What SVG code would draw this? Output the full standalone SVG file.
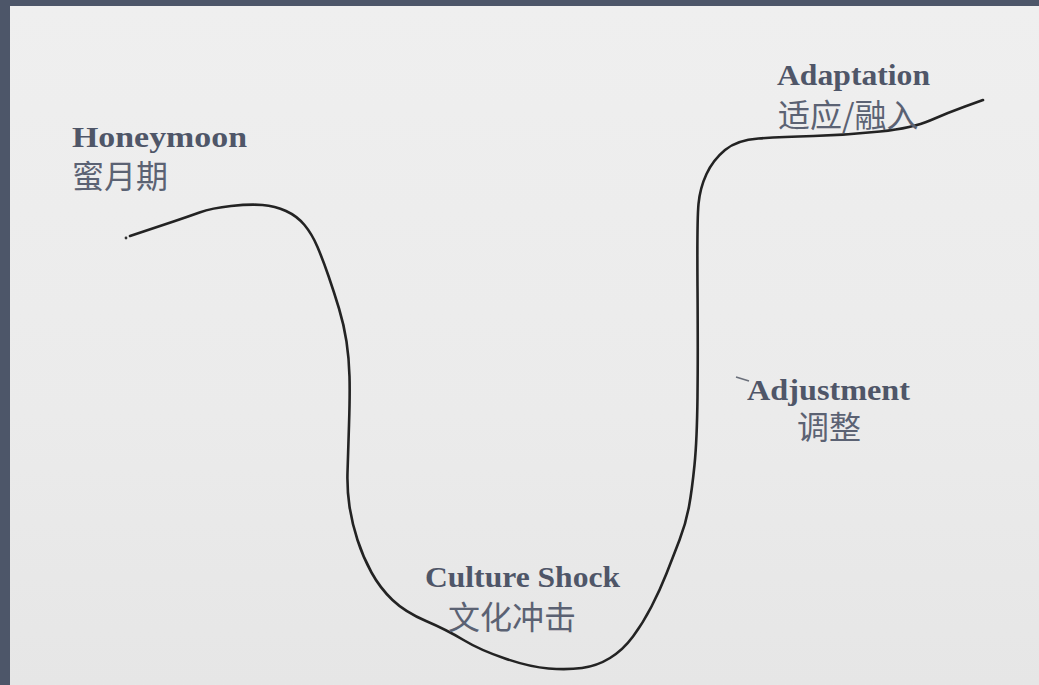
<svg xmlns="http://www.w3.org/2000/svg" width="1039" height="685" viewBox="0 0 1039 685">
  <defs>
    <linearGradient id="paper" x1="0" y1="0" x2="0" y2="1">
      <stop offset="0" stop-color="#efefef"/>
      <stop offset="0.6" stop-color="#ebebeb"/>
      <stop offset="1" stop-color="#e6e6e6"/>
    </linearGradient>
    <style>
      .en { font-family: "Liberation Serif", "DejaVu Serif", serif; font-weight: bold; font-size: 29px; fill: #4f5668; }
      .zh { font-family: "Noto Sans CJK SC", "Noto Sans", sans-serif; font-size: 32px; fill: #5b6273; }
      .curve { fill: none; stroke: #232323; stroke-width: 2.6; stroke-linecap: round; stroke-linejoin: round; }
    </style>
  </defs>
  <rect x="0" y="0" width="1039" height="685" fill="#4d5669"/>
  <rect x="10" y="6" width="1029" height="679" fill="url(#paper)"/>

  <g id="connectors">
    <path class="curve" d="M130,236 L145,231 Q160,226 173.5,221.5 Q187,217 199.5,212.5 Q212,208 231,206 Q250,204 262.5,205 Q275,206 286,211 Q297,216 304.5,225 Q312,234 317.5,247 Q323,260 328.5,276 Q334,292 339,308.5 Q344,325 346.5,341.5 Q349,358 349.5,376.5 Q350,395 349,425 Q348,455 347.5,472.5 Q347,490 349.5,506.5 Q352,523 357.5,540 Q363,557 371.5,572.5 Q380,588 392.5,600 Q405,612 426,621 Q447,630 463.5,640 Q480,650 505,658.5 Q530,667 548.5,668.5 Q567,670 582,668 Q597,666 610,658 Q623,650 633,636.5 Q643,623 651.5,606.5 Q660,590 666.5,573.5 Q673,557 679.5,540 Q686,523 689,506.5 Q692,490 694.5,465 Q697,440 697.5,396.5 Q698,353 697.5,286.5 Q697,220 698.5,204 Q700,188 706.5,174 Q713,160 725,150 Q737,140 758.5,138.5 Q780,137 813.5,136 Q847,135 880,131.5 Q913,128 930,120.5 Q947,113 965,106.5 L983,100"/>
    <circle cx="126" cy="238" r="1.4" fill="#333"/>
    <path d="M736,377 L749,381" stroke="#6a6f7a" stroke-width="1.5" fill="none"/>
  </g>

  <g id="honeymoon">
    <text class="en" x="72" y="147" textLength="175" lengthAdjust="spacingAndGlyphs">Honeymoon</text>
    <text class="zh" x="72" y="188" font-size="33">蜜月期</text>
  </g>
  <g id="culture-shock">
    <text class="en" x="425" y="587" textLength="195" lengthAdjust="spacingAndGlyphs">Culture Shock</text>
    <text class="zh" x="448" y="629" font-size="33">文化冲击</text>
  </g>
  <g id="adjustment">
    <text class="en" x="747" y="400" textLength="163" lengthAdjust="spacingAndGlyphs">Adjustment</text>
    <text class="zh" x="797" y="439">调整</text>
  </g>
  <g id="adaptation">
    <text class="en" x="777" y="85" textLength="153" lengthAdjust="spacingAndGlyphs">Adaptation</text>
    <text class="zh" x="778" y="127">适应/融入</text>
  </g>
</svg>
